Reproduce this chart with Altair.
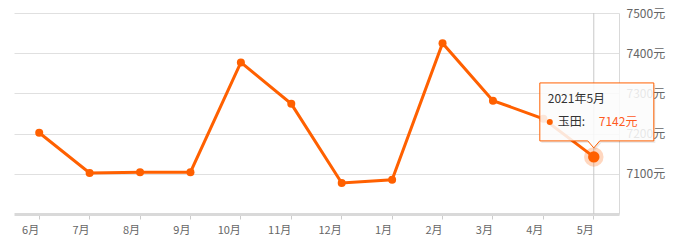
import altair as alt
import pandas as pd

# Monthly average price series (元/㎡), June through the following May
months = ["6月", "7月", "8月", "9月", "10月", "11月", "12月", "1月", "2月", "3月", "4月", "5月"]
prices = [7202, 7102, 7104, 7104, 7377, 7274, 7077, 7085, 7425, 7282, 7237, 7142]
y_ticks = [7100, 7200, 7300, 7400, 7500]
series_name = "玉田"
hover_title = "2021年5月"

ORANGE = "#ff6000"
FONT = "Noto Sans CJK SC"

df = pd.DataFrame({"month": months, "price": prices})
hover = pd.DataFrame({"month": [months[-1]], "price": [prices[-1]],
                      "title": [hover_title], "name": [series_name + ":"]})

x = alt.X("month:N", sort=months, title=None,
          scale=alt.Scale(domain=months, paddingInner=0, paddingOuter=0),
          axis=alt.Axis(labelAngle=0, labelColor="#666", labelFontSize=11, labelFont=FONT,
                        domainColor="#d9d9d9", domainWidth=3, tickColor="#cccccc",
                        tickSize=5, labelPadding=11, grid=False))
y = alt.Y("price:Q", title=None,
          scale=alt.Scale(domain=[7000, 7500], nice=False, zero=False),
          axis=alt.Axis(orient="right", values=y_ticks, labelExpr="datum.value + '元'",
                        labelColor="#666", labelFontSize=12, labelFont=FONT,
                        ticks=False, labelPadding=7, domainColor="#d9d9d9",
                        gridColor="#e0e0e0", labelBaseline="middle"))

base = alt.Chart(df).encode(x=x, y=y)

crosshair = alt.Chart(hover).mark_rule(color="#c8c8c8", strokeWidth=1).encode(
    x=alt.X("month:N", sort=months))

line = base.mark_line(color=ORANGE, strokeWidth=3)
points = base.mark_circle(color=ORANGE, size=64, opacity=1)

hb = alt.Chart(hover).encode(x=alt.X("month:N", sort=months), y="price:Q")
halo = hb.mark_circle(color=ORANGE, size=380, opacity=0.25)
dot = hb.mark_circle(color=ORANGE, size=130, opacity=1)

# Tooltip box with a downward pointer, anchored on the highlighted point
box_path = ("M -0.947 -1.298 L 1.053 -1.298 L 1.053 -0.281 L 0.105 -0.281 "
            "L 0 -0.158 L -0.105 -0.281 L -0.947 -0.281 Z")
tip_shadow = hb.mark_point(shape=box_path, size=114 * 114, filled=True, fill="#000",
                           fillOpacity=0.08, strokeWidth=0, opacity=1,
                           xOffset=1.5, yOffset=2)
tip_box = hb.mark_point(shape=box_path, size=114 * 114, filled=True, fill="white",
                        fillOpacity=0.85, stroke=ORANGE, strokeWidth=1, opacity=1)
tip_title = hb.mark_text(align="left", baseline="middle", dx=-46, dy=-58, fontSize=12,
                         font=FONT, color="#333").encode(text="title:N")
tip_dot = hb.mark_point(shape="circle", size=36, filled=True, color=ORANGE, opacity=1,
                        xOffset=-44, yOffset=-35)
tip_name = hb.mark_text(align="left", baseline="middle", dx=-36, dy=-35, fontSize=12,
                        font=FONT, color="#333").encode(text="name:N")
tip_value = hb.transform_calculate(label="datum.price + '元'").mark_text(
    align="left", baseline="middle", dx=5, dy=-35, fontSize=12, font=FONT,
    color="#ff5a1f").encode(text="label:N")

chart = alt.layer(crosshair, line, points, halo, dot,
                  tip_shadow, tip_box, tip_title, tip_dot, tip_name, tip_value).properties(
    width=605, height=201,
    padding={"left": 14, "top": 13, "right": 65, "bottom": 32},
    autosize=alt.AutoSizeParams(type="none"),
    background="white",
).configure_view(stroke=None)

chart.save("out.html", embed_options={"renderer": "svg", "actions": False})
